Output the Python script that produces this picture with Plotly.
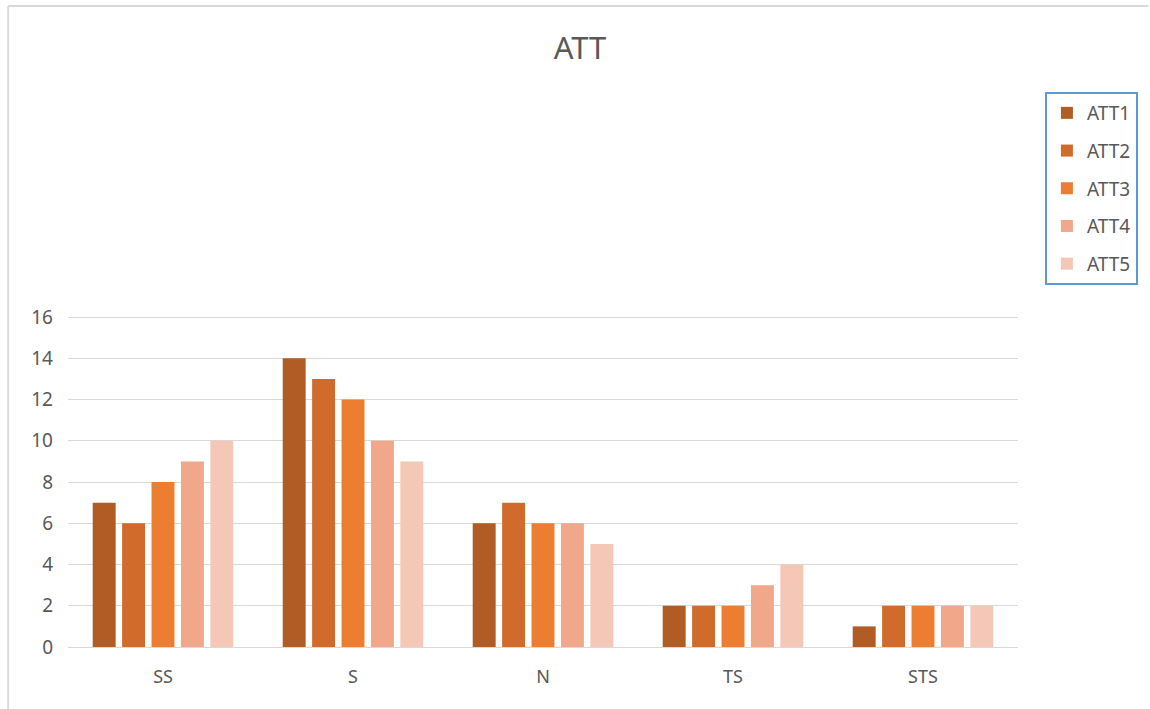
import plotly.graph_objects as go

categories = ["SS", "S", "N", "TS", "STS"]
att1 = [7, 14, 6, 2, 1]
att2 = [6, 13, 7, 2, 2]
att3 = [8, 12, 6, 2, 2]
att4 = [9, 10, 6, 3, 2]
att5 = [10, 9, 5, 4, 2]
series_names = ["ATT1", "ATT2", "ATT3", "ATT4", "ATT5"]
colors = ["#B05C24", "#D16B2C", "#ED7D31", "#F0A78A", "#F4C7B6"]

W, H = 1150, 709
L, R, T, B = 68, 1021, 313, 647

fig = go.Figure()
for name, vals, col in zip(series_names, [att1, att2, att3, att4, att5], colors):
    fig.add_trace(go.Bar(x=categories, y=vals, name=name, legendgroup=name,
                         marker=dict(color=col, line=dict(width=0))))

pw, ph = R - L, B - T
def px(x):
    return (x - L) / pw
def py(y):
    return (B - y) / ph

fig.update_layout(
    width=W, height=H,
    margin=dict(l=L, r=W - R, t=T, b=H - B),
    paper_bgcolor="white", plot_bgcolor="white",
    barmode="group", bargap=0.226, bargroupgap=0.22,
    font=dict(family="Noto Sans, Open Sans, sans-serif", color="#595959", size=18),
    title=dict(text="ATT", x=(580) / W, xanchor="center", y=1 - 48 / H, yanchor="middle",
               font=dict(size=31, color="#595959")),
    xaxis=dict(showgrid=False, showline=True, linecolor="#D9D9D9", linewidth=1,
               ticks="", ticklabelstandoff=13, tickfont=dict(size=18, color="#595959")),
    yaxis=dict(range=[0, 16.2], dtick=2, showgrid=True, gridcolor="#D9D9D9", gridwidth=1,
               zeroline=False, showline=False, ticks="", ticklabelstandoff=14,
               tickfont=dict(size=19, color="#595959")),
    legend=dict(x=px(1048), xanchor="left", y=py(92), yanchor="top",
                bordercolor="#5B9BD5", borderwidth=2, bgcolor="white",
                font=dict(size=19, color="#595959"), itemsizing="constant",
                tracegroupgap=10),
    shapes=[
        dict(type="line", xref="paper", yref="paper", x0=px(8), x1=px(8), y0=py(6), y1=py(712),
             line=dict(color="#D9D9D9", width=2)),
        dict(type="line", xref="paper", yref="paper", x0=px(8), x1=px(1152), y0=py(6), y1=py(6),
             line=dict(color="#D9D9D9", width=2)),
    ],
)

fig.write_html("out.html")
